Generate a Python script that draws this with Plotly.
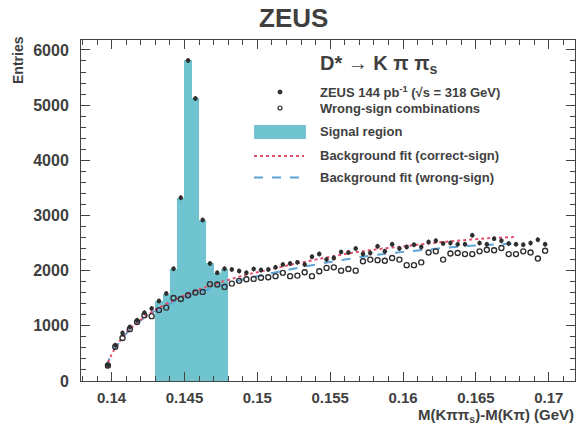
import plotly.graph_objects as go

# ---------------- data ----------------
bin_centers = [0.13975 + 0.0005 * i for i in range(61)]

correct_sign = [290, 650, 870, 980, 1100, 1235, 1315, 1450, 1585, 2035,
                3320, 5810, 5120, 2920, 2130, 1960, 2035, 2020, 1995, 1960,
                2030, 2010, 2020, 2060, 2110, 2130, 2150, 2110, 2250, 2300,
                2200, 2230, 2340, 2330, 2400, 2300, 2320, 2440, 2350, 2480,
                2400, 2430, 2470, 2430, 2520, 2540, 2490, 2500, 2480, 2480,
                2640, 2500, 2480, 2580, 2540, 2490, 2480, 2470, 2500, 2560,
                2480]

wrong_sign = [280, 620, 780, 940, 1070, 1190, 1175, 1285, 1330, 1505,
              1485, 1555, 1605, 1615, 1755, 1750, 1705, 1765, 1815, 1845,
              1850, 1870, 1880, 1900, 1960, 1900, 1910, 1970, 1900, 1990,
              2050, 2060, 2000, 2030, 2000, 2170, 2200, 2190, 2180, 2230,
              2200, 2100, 2100, 2150, 2330, 2350, 2200, 2310, 2320, 2300,
              2300, 2350, 2380, 2370, 2410, 2300, 2300, 2350, 2330, 2220,
              2360]

signal_lo, signal_hi = 0.143, 0.148

fit_x = [0.1396, 0.1400, 0.1405, 0.1410, 0.1415, 0.1420, 0.1430, 0.1440,
         0.1450, 0.1460, 0.1470, 0.1480, 0.1490, 0.1500, 0.1520, 0.1540,
         0.1560, 0.1580, 0.1600, 0.1620, 0.1640, 0.1660, 0.1678]
fit_correct = [230, 480, 700, 870, 1000, 1110, 1290, 1430, 1550, 1660, 1750,
               1830, 1910, 1970, 2090, 2200, 2300, 2380, 2440, 2500, 2550,
               2590, 2610]
fit_wrong = [260, 480, 690, 860, 990, 1100, 1270, 1400, 1510, 1610, 1690,
             1770, 1840, 1900, 2010, 2110, 2200, 2280, 2340, 2390, 2440,
             2470, 2490]

x_ticks = [0.14, 0.145, 0.15, 0.155, 0.16, 0.165, 0.17]
y_ticks = [0, 1000, 2000, 3000, 4000, 5000, 6000]

# ---------------- styles ----------------
FONT = "Liberation Sans"
TXT = "#3f3f3f"
CYAN = "#6fc4d0"
RED = "#e4506f"
BLUE = "#5ea3d6"
MK = "#2f2f2f"

W, H = 579, 430
L, R, T, B = 81, 575, 40, 381


def px(xp):
    return (xp - L) / (R - L)


def py(yp):
    return (B - yp) / (B - T)


sig_x = [c for c in bin_centers if signal_lo < c < signal_hi]
sig_y = [v for c, v in zip(bin_centers, correct_sign) if signal_lo < c < signal_hi]

fig = go.Figure()
fig.add_trace(go.Bar(x=sig_x, y=sig_y, width=0.0005, marker=dict(color=CYAN, line=dict(width=0)),
                     showlegend=False, hoverinfo="skip"))
fig.add_trace(go.Scatter(x=fit_x, y=fit_wrong, mode="lines", line=dict(color=BLUE, width=2, dash="dash", shape="spline"),
                         showlegend=False))
fig.add_trace(go.Scatter(x=fit_x, y=fit_correct, mode="lines", line=dict(color=RED, width=2, dash="dot", shape="spline"),
                         showlegend=False))
fig.add_trace(go.Scatter(x=bin_centers, y=wrong_sign, mode="markers",
                         marker=dict(symbol="circle-open", size=5, color=MK, line=dict(width=1.4)),
                         showlegend=False))
fig.add_trace(go.Scatter(x=bin_centers, y=correct_sign, mode="markers",
                         marker=dict(symbol="circle", size=4.5, color=MK),
                         error_y=dict(type="constant", value=45, thickness=1.2, width=0, color=MK),
                         showlegend=False))

x_font = dict(family=FONT, size=15, color=TXT, weight="bold")
y_font = dict(family=FONT, size=16, color=TXT, weight="bold")
fig.update_xaxes(range=[0.1379, 0.1718], tickvals=x_ticks, ticktext=[f"{v:g}" for v in x_ticks],
                 ticks="inside", ticklen=9, tickwidth=1, tickcolor="#444",
                 showline=True, linecolor="#444", linewidth=1, mirror="ticks",
                 minor=dict(dtick=0.001, tick0=0.14, ticks="inside", ticklen=5, tickcolor="#444"),
                 showgrid=False, zeroline=False, tickfont=x_font, ticklabelstandoff=3)
fig.update_yaxes(range=[0, 6180], tickvals=y_ticks, ticktext=[str(v) for v in y_ticks],
                 ticks="inside", ticklen=9, tickwidth=1, tickcolor="#444",
                 showline=True, linecolor="#444", linewidth=1, mirror="ticks",
                 minor=dict(dtick=200, tick0=0, ticks="inside", ticklen=5, tickcolor="#444"),
                 showgrid=False, zeroline=False, tickfont=y_font, ticklabelstandoff=8)

ann = []
shapes = []


def add_text(text, xp, yp, size, xanchor="center", angle=0):
    ann.append(dict(text=text, x=px(xp), y=py(yp), xref="paper", yref="paper", showarrow=False,
                    xanchor=xanchor, yanchor="middle", textangle=angle,
                    font=dict(family=FONT, size=size, color=TXT)))


add_text("<b>ZEUS</b>", 293, 18, 26)
add_text("<b>Entries</b>", 18, 60, 14, angle=-90)
add_text("<b>M(Kππ<sub>s</sub>)-M(Kπ) (GeV)</b>", 576, 416, 15, xanchor="right")
add_text("<b>D* → K π π<sub>s</sub></b>", 318, 64, 20, xanchor="left")

items = [("ZEUS 144 pb<sup>-1</sup> (√s = 318 GeV)", 92),
         ("Wrong-sign combinations", 108),
         ("Signal region", 131),
         ("Background fit (correct-sign)", 155),
         ("Background fit (wrong-sign)", 177)]
for txt, yy in items:
    add_text(f"<b>{txt}</b>", 318, yy, 13, xanchor="left")

shapes.append(dict(type="circle", xref="paper", yref="paper", xsizemode="pixel", ysizemode="pixel",
                   xanchor=px(280), yanchor=py(92), x0=-2, x1=2, y0=-2, y1=2,
                   fillcolor=MK, line=dict(color=MK, width=1)))
shapes.append(dict(type="circle", xref="paper", yref="paper", xsizemode="pixel", ysizemode="pixel",
                   xanchor=px(280), yanchor=py(108), x0=-2, x1=2, y0=-2, y1=2,
                   line=dict(color=MK, width=1.2)))
shapes.append(dict(type="rect", xref="paper", yref="paper", x0=px(254), x1=px(306), y0=py(139), y1=py(125),
                   fillcolor=CYAN, line=dict(width=0)))
shapes.append(dict(type="line", xref="paper", yref="paper", x0=px(254), x1=px(304), y0=py(156), y1=py(156),
                   line=dict(color=RED, width=2, dash="dot")))
shapes.append(dict(type="line", xref="paper", yref="paper", x0=px(254), x1=px(304), y0=py(177.5), y1=py(177.5),
                   line=dict(color=BLUE, width=2, dash="dash")))

fig.update_layout(width=W, height=H, margin=dict(l=L, r=W - R, t=T, b=H - B),
                  paper_bgcolor="white", plot_bgcolor="white", showlegend=False,
                  bargap=0, annotations=ann, shapes=shapes,
                  font=dict(family=FONT, color=TXT))

fig.write_html("out.html")
